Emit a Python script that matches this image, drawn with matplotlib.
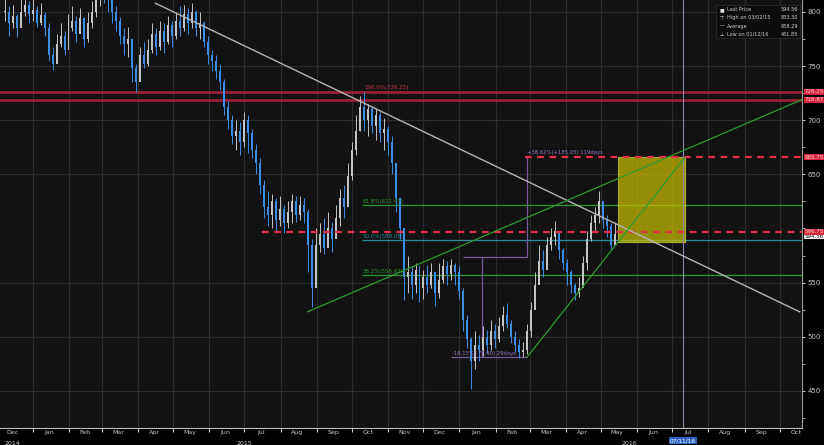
import matplotlib
matplotlib.use("Agg")
import matplotlib.pyplot as plt
import matplotlib.dates as mdates
import numpy as np
import pandas as pd

# price bars (one bar every ~3.4 calendar days)
first_bar = "2014-12-08"
last_bar = "2016-05-13"
close = [800, 790, 796, 785, 800, 806, 798, 802, 790, 797, 785, 760, 752, 770, 778, 765,
         785, 792, 780, 794, 775, 790, 800, 812, 825, 818, 815, 800, 792, 778, 770, 775,
         748, 735, 760, 752, 765, 780, 768, 782, 772, 788, 778, 792, 785, 798, 790, 800,
         785, 790, 772, 760, 755, 745, 735, 712, 700, 685, 690, 680, 700, 688, 672, 660,
         640, 620, 612, 625, 608, 618, 605, 615, 625, 612, 622, 615, 585, 545, 585, 595,
         582, 600, 590, 610, 628, 620, 648, 672, 690, 712, 700, 710, 695, 705, 688, 692,
         680, 660, 628, 600, 555, 560, 548, 562, 545, 555, 548, 560, 540, 552, 565, 558,
         566, 560, 542, 515, 498, 478, 492, 488, 500, 492, 505, 498, 510, 520, 512, 500,
         492, 486, 488, 505, 525, 548, 570, 562, 585, 592, 598, 580, 568, 560, 548, 540,
         545, 568, 590, 605, 612, 625, 608, 602, 585, 594.56]
high = [812, 805, 806, 798, 812, 815, 810, 812, 805, 808, 800, 790, 768, 780, 790, 782,
        798, 805, 796, 804, 795, 800, 810, 822, 833.3, 830, 825, 818, 805, 795, 785, 786,
        775, 752, 768, 772, 775, 790, 785, 792, 790, 796, 792, 800, 805, 806, 804, 808,
        802, 800, 792, 778, 765, 760, 752, 738, 718, 705, 700, 698, 708, 705, 692, 678,
        665, 645, 635, 632, 628, 630, 622, 625, 632, 630, 630, 628, 618, 590, 600, 605,
        610, 615, 606, 622, 636, 640, 660, 680, 705, 722, 726, 715, 712, 710, 708, 702,
        695, 685, 660, 625, 600, 575, 565, 568, 566, 562, 566, 568, 560, 568, 572, 570,
        572, 568, 565, 545, 520, 500, 505, 502, 510, 506, 515, 512, 518, 528, 531, 515,
        505, 498, 495, 512, 532, 560, 585, 580, 592, 600, 607, 598, 582, 572, 562, 550,
        555, 575, 598, 612, 620, 635, 625, 612, 605, 606]
low = [792, 778, 785, 777, 790, 796, 790, 792, 786, 788, 778, 755, 746, 760, 768, 760,
       770, 782, 772, 782, 768, 772, 785, 795, 805, 808, 800, 790, 782, 770, 760, 758,
       735, 726, 740, 748, 750, 762, 760, 765, 762, 770, 768, 775, 778, 782, 780, 785,
       778, 775, 768, 752, 745, 738, 728, 705, 692, 678, 672, 668, 675, 670, 665, 650,
       632, 610, 602, 600, 598, 602, 596, 600, 605, 606, 608, 605, 560, 527, 550, 578,
       576, 585, 578, 592, 602, 610, 630, 645, 668, 690, 690, 685, 688, 682, 680, 672,
       668, 650, 615, 590, 534, 540, 535, 540, 532, 535, 540, 545, 528, 536, 550, 548,
       552, 548, 535, 505, 490, 451.85, 470, 478, 482, 485, 488, 490, 495, 505, 508, 494,
       486, 480, 481, 484, 500, 530, 560, 555, 570, 580, 585, 572, 562, 548, 540, 534,
       537, 548, 562, 588, 598, 605, 600, 592, 580, 588]

# horizontal studies
red_solid = [726.25, 718.87]
red_dashed = [665.75, 596.75]
dashed_from = ["2016-02-26", "2015-07-16"]
fib_levels = [621.43, 589.05, 556.67]
fib_labels = ["61.8%(621.43)", "50.0%(589.05)", "38.2%(556.67)"]
fib_colors = ["#2c9a2c", "#2a8c9c", "#2c9a2c"]
fib_from = "2015-10-10"

# trend lines (date, price)
gray_trend = [("2015-04-16", 808), ("2016-10-18", 523)]
green_trend1 = [("2015-08-24", 523), ("2016-10-20", 719)]
green_trend2 = [("2016-02-28", 481.3), ("2016-07-12", 665.75)]

# measurement tool and target box
box_dates = ["2016-05-16", "2016-07-12"]
box_prices = [587.75, 665.75]
meas_v1 = ("2016-02-28", 573.6, 665.75)
meas_h1 = ("2016-01-04", "2016-02-28", 573.6)
meas_v2 = ("2016-01-20", 481.3, 573.6)
meas_h2 = ("2015-12-25", "2016-02-28", 481.3)
marker_date = "2016-07-10"

legend_rows = [("\u25a0", "Last Price", "594.56"),
               ("\u22a4", "High on 03/02/15", "833.30"),
               ("\u2014", "Average", "658.29"),
               ("\u22a5", "Low on 01/12/16", "451.85")]

d = mdates.datestr2num

fig = plt.figure(figsize=(8.24, 4.45), dpi=100, facecolor="black")
ax = fig.add_axes([0, 17 / 445, 802 / 824, 428 / 445])
ax.set_facecolor("#121212")
ax.set_xlim(d("2014-12-04"), d("2016-10-20"))
ax.set_ylim(415.7, 811)

# grid
ax.xaxis.set_major_locator(mdates.MonthLocator())
ax.xaxis.set_major_formatter(plt.NullFormatter())
ax.xaxis.set_minor_locator(mdates.MonthLocator(bymonthday=15))
ax.xaxis.set_minor_formatter(mdates.DateFormatter("%b"))
ax.set_yticks([450, 500, 550, 650, 700, 750, 800])
ax.set_yticks(np.arange(425, 811, 25), minor=True)
ax.grid(True, which="major", color="#2b2b2b", lw=0.8)
ax.set_axisbelow(True)
ax.yaxis.tick_right()
ax.tick_params(axis="y", which="both", colors="#c8c8c8", labelsize=5, length=2, pad=2)
ax.tick_params(axis="x", which="major", colors="#c8c8c8", length=3)
ax.tick_params(axis="x", which="minor", colors="#c8c8c8", labelsize=4.5, length=0, pad=1.5)
for s in ["top", "left"]:
    ax.spines[s].set_visible(False)
ax.spines["bottom"].set_color("#bdbdbd")
ax.spines["right"].set_color("#9a9a9a")

# red levels
for lv in red_solid:
    ax.axhline(lv, color="#a8203a", lw=2, alpha=0.9, zorder=2)
for lv, st in zip(red_dashed, dashed_from):
    ax.hlines(lv, d(st), d("2016-10-20"), color="#e23048", lw=1.6, linestyles=(0, (3, 2.5)), zorder=6)
ax.text(d("2015-10-12"), 727.5, "100.0%(726.25)", color="#d43a50", fontsize=4, va="bottom")

# fibonacci
for lv, lab, c in zip(fib_levels, fib_labels, fib_colors):
    ax.hlines(lv, d(fib_from), d("2016-10-20"), color=c, lw=0.9, zorder=2)
    ax.text(d(fib_from), lv + 1, lab, color=c, fontsize=4, va="bottom", zorder=7)

# target box
ax.fill_between([d(box_dates[0]), d(box_dates[1])], box_prices[0], box_prices[1],
                color="#c8be00", alpha=0.72, lw=0.8, edgecolor="#d8d040", zorder=3)

# measurement lines
mc = "#7a5a98"
ax.vlines(d(meas_v1[0]), meas_v1[1], meas_v1[2], color=mc, lw=0.9, zorder=4)
ax.hlines(meas_h1[2], d(meas_h1[0]), d(meas_h1[1]), color=mc, lw=0.9, zorder=4)
ax.vlines(d(meas_v2[0]), meas_v2[1], meas_v2[2], color=mc, lw=0.9, zorder=4)
ax.hlines(meas_h2[2], d(meas_h2[0]), d(meas_h2[1]), color=mc, lw=0.9, zorder=4)
ax.text(d("2016-02-28"), 667.5, "+38.62%(+185.05) 119days", color="#9a78c0", fontsize=3.8, va="bottom", zorder=7)
ax.text(d("2015-12-26"), 482.5, "-16.15%(-78.90) 29days", color="#9a78c0", fontsize=3.8, va="bottom", zorder=7)
ax.axvline(d(marker_date), color="#8a86a8", lw=0.8, zorder=4)

# candles
dates = mdates.date2num(pd.date_range(first_bar, last_bar, periods=len(close)))
c_arr = np.array(close, dtype=float)
o_arr = np.r_[c_arr[0], c_arr[:-1]]
cols = np.where(c_arr >= o_arr, "#c4c4c4", "#3a8ee6")
ax.vlines(dates, low, high, colors=cols, lw=0.7, zorder=5)
body = np.maximum(np.abs(c_arr - o_arr), 1.2)
ax.bar(dates, body, bottom=np.minimum(c_arr, o_arr), width=1.7, color=cols, zorder=5)

# trend lines
for pts, c, w in [(gray_trend, "#b4b4b4", 1.0), (green_trend1, "#2f9a2f", 0.9), (green_trend2, "#2f9a2f", 0.9)]:
    ax.plot([d(pts[0][0]), d(pts[1][0])], [pts[0][1], pts[1][1]], color=c, lw=w, zorder=6)

# right axis price tags
yt = ax.get_yaxis_transform()
ax.text(1.003, 594.56 - 1.8, "594.56", transform=yt, fontsize=4, color="black", va="center",
        bbox=dict(boxstyle="square,pad=0.12", fc="white", ec="none"), clip_on=False, zorder=8)
for lv in red_solid + red_dashed:
    ax.text(1.003, lv, f"{lv:.2f}", transform=yt, fontsize=4, color="#ffd0d6", va="center",
            bbox=dict(boxstyle="square,pad=0.12", fc="#d8283e", ec="none"), clip_on=False, zorder=9)

# year labels and date marker
xt = ax.get_xaxis_transform()
for yd, lab in [("2014-12-15", "2014"), ("2015-07-01", "2015"), ("2016-05-25", "2016")]:
    ax.text(d(yd), -0.03, lab, transform=xt, fontsize=4.5, color="#c8c8c8", ha="center", va="top", clip_on=False)
ax.text(d(marker_date), -0.024, "07/11/16", transform=xt, fontsize=4.2, color="white", ha="center", va="top",
        bbox=dict(boxstyle="square,pad=0.15", fc="#2a64c0", ec="none"), clip_on=False, zorder=9)

# legend box
ax.add_patch(plt.Rectangle((0.893, 0.911), 0.104, 0.077, transform=ax.transAxes, fc="#0c0c0c",
                           ec="#303030", lw=0.5, zorder=8))
for i, (sym, lab, val) in enumerate(legend_rows):
    yy = 0.977 - i * 0.019
    ax.text(0.897, yy, sym, transform=ax.transAxes, fontsize=3.6, color="#e0e0e0", va="center", zorder=9)
    ax.text(0.906, yy, lab, transform=ax.transAxes, fontsize=3.6, color="#d0d0d0", va="center", zorder=9)
    ax.text(0.995, yy, val, transform=ax.transAxes, fontsize=3.6, color="#d0d0d0", va="center", ha="right", zorder=9)

fig.savefig("out.png", dpi=100, facecolor="black")
